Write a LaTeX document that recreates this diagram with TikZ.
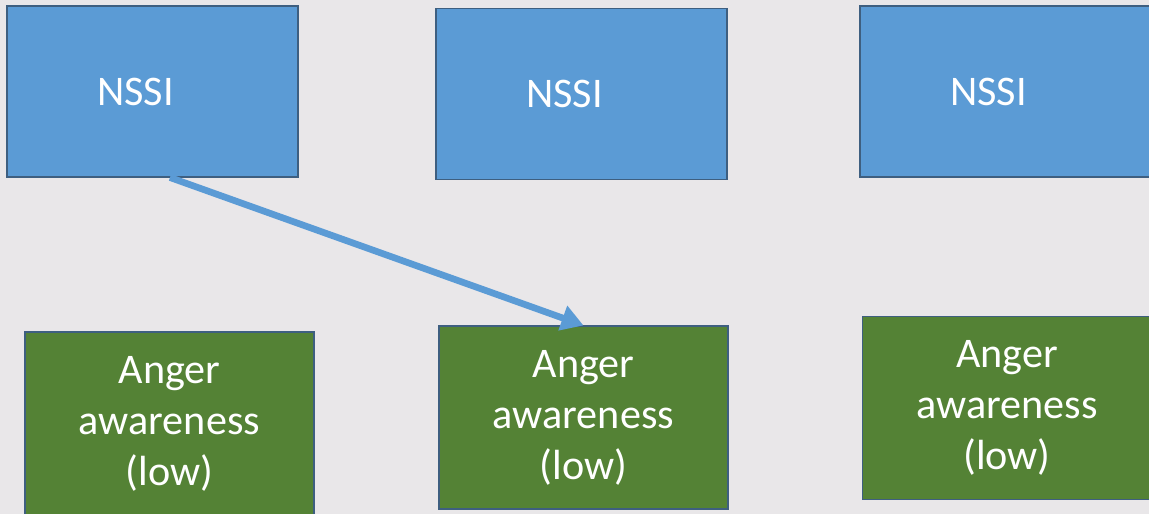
\documentclass[tikz,border=0pt]{standalone}
\usepackage{fontspec}
\setmainfont{Carlito}
\usetikzlibrary{arrows.meta}

\definecolor{nssiblue}{HTML}{5B9BD5}
\definecolor{angergreen}{HTML}{548235}
\definecolor{edgeblue}{HTML}{3E5F80}
\definecolor{paper}{HTML}{E9E7E9}

\tikzset{
  nssibox/.style={draw=edgeblue, line width=0.6pt, fill=nssiblue,
    minimum width=5.82cm, minimum height=3.42cm, inner sep=0pt},
  angerbox/.style={draw=edgeblue, line width=0.6pt, fill=angergreen,
    minimum width=5.78cm, minimum height=3.66cm, inner sep=0pt,
    text=white, align=center, font=\fontsize{24}{29}\selectfont},
  nssitext/.style={text=white, font=\fontsize{24}{29}\selectfont},
}

\begin{document}
\begin{tikzpicture}
            \fill[paper] (0, 0) rectangle (22.98, 10.28);
            \useasboundingbox (0, 0) rectangle (22.98, 10.28);

            \node[nssibox] (nssiA) at (3.05, 8.45) {};
            \node[nssibox] (nssiB) at (11.63, 8.40) {};
            \node[nssibox] (nssiC) at (20.11, 8.45) {};
            \node[nssitext] (nssiAlabel) at ([xshift=-0.34cm]nssiA.center) {NSSI};
            \node[nssitext] (nssiBlabel) at ([xshift=-0.34cm]nssiB.center) {NSSI};
            \node[nssitext] (nssiClabel) at ([xshift=-0.34cm]nssiC.center) {NSSI};

            \node[angerbox] (angerA) at (3.39, 1.81) {Anger\\awareness\\(low)};
            \node[angerbox] (angerB) at (11.67, 1.93) {Anger\\awareness\\(low)};
            \node[angerbox] (angerC) at (20.14, 2.12) {Anger\\awareness\\(low)};

            \draw[nssiblue, line width=3.8pt, -{Triangle[length=0.44cm, width=0.5cm]}]
                ([xshift=0.35cm]nssiA.south) -- (angerB.north);
        \end{tikzpicture}
\end{document}
